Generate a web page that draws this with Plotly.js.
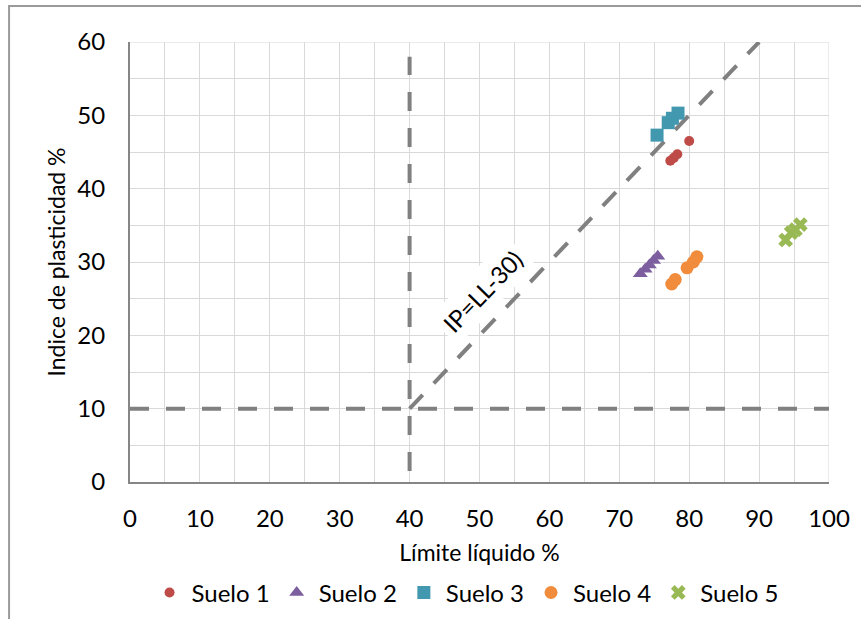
<!DOCTYPE html>
<html>
<head>
<meta charset="utf-8">
<script src="https://cdn.plot.ly/plotly-3.0.1.min.js"></script>
<style>
html,body{margin:0;padding:0;background:#fff;}
#chart{width:861px;height:619px;}
</style>
</head>
<body>
<div id="chart"></div>
<script>
// Data
var seriesNames = ["Suelo 1", "Suelo 2", "Suelo 3", "Suelo 4", "Suelo 5"];
var suelo1LL = [77.3, 77.8, 78.3, 80.0];
var suelo1IP = [43.8, 44.2, 44.7, 46.5];
var suelo2LL = [73.0, 73.7, 74.3, 74.9, 75.5];
var suelo2IP = [28.4, 29.0, 29.6, 30.2, 30.8];
var suelo3LL = [75.4, 77.0, 77.6, 78.4];
var suelo3IP = [47.3, 49.0, 49.6, 50.3];
var suelo4LL = [77.5, 78.0, 79.7, 80.6, 81.1];
var suelo4IP = [27.0, 27.6, 29.2, 30.0, 30.7];
var suelo5LL = [93.8, 94.6, 95.2, 95.9];
var suelo5IP = [33.0, 34.0, 34.4, 35.1];

// Reference lines
var lineHorizX = [0, 100];
var lineHorizY = [10, 10];
var lineVertX = [40, 40];
var lineVertY = [1.5, 58];
var lineDiagX = [40, 90];
var lineDiagY = [10, 60];
var diagLabel = "IP=LL-30)";

var xTicks = [0,10,20,30,40,50,60,70,80,90,100];
var yTicks = [0,10,20,30,40,50,60];

var FONT = "Lato, 'Noto Sans', sans-serif";
var colors = ["#BE4B48", "#7D5FA0", "#4198AF", "#F08C3C", "#98B954"];
var symbols = ["circle", "triangle-up", "square", "circle", "x"];
var sizes = [10, 13, 13, 13, 13];
var xs = [suelo1LL, suelo2LL, suelo3LL, suelo4LL, suelo5LL];
var ys = [suelo1IP, suelo2IP, suelo3IP, suelo4IP, suelo5IP];

var dashStyle = {color: "#808080", width: 4, dash: "19px,17px"};
var traces = [
  {x: lineHorizX, y: lineHorizY, mode: "lines", line: dashStyle, showlegend: false, hoverinfo: "skip"},
  {x: lineVertX, y: lineVertY, mode: "lines", line: dashStyle, showlegend: false, hoverinfo: "skip"},
  {x: lineDiagX, y: lineDiagY, mode: "lines", line: {color: "#808080", width: 4, dash: "19px,16px"}, showlegend: false, hoverinfo: "skip"}
];
for (var i = 0; i < seriesNames.length; i++) {
  traces.push({
    x: xs[i], y: ys[i], name: seriesNames[i], type: "scatter", mode: "markers",
    marker: {color: colors[i], symbol: symbols[i], size: sizes[i], line: {width: 0}}
  });
}

var layout = {
  width: 861, height: 619,
  margin: {l: 130, r: 32, t: 42, b: 137, autoexpand: false},
  paper_bgcolor: "#fff", plot_bgcolor: "#fff",
  font: {family: FONT, color: "#000"},
  xaxis: {
    range: [0, 100], tickvals: xTicks, ticktext: xTicks.map(String),
    showgrid: true, gridcolor: "#d9d9d9", gridwidth: 1,
    minor: {dtick: 5, showgrid: true, gridcolor: "#d9d9d9", gridwidth: 1},
    zeroline: false, showline: true, linecolor: "#868686", linewidth: 2,
    ticks: "", tickfont: {size: 24, family: FONT}, ticklabelstandoff: 14,
    automargin: false,
    title: {text: "Límite líquido %", font: {size: 23, family: FONT}, standoff: 14}
  },
  yaxis: {
    range: [0, 60], tickvals: yTicks, ticktext: yTicks.map(String),
    showgrid: true, gridcolor: "#d9d9d9", gridwidth: 1,
    minor: {dtick: 5, showgrid: true, gridcolor: "#d9d9d9", gridwidth: 1},
    zeroline: false, showline: true, linecolor: "#868686", linewidth: 2,
    ticks: "", tickfont: {size: 24, family: FONT}, ticklabelstandoff: 18,
    automargin: false,
    title: {text: "Indice de plasticidad %", font: {size: 23, family: FONT}, standoff: 5}
  },
  legend: {
    orientation: "h", x: 0.48, xanchor: "center", y: -0.252, yanchor: "middle",
    font: {size: 24, family: FONT}, itemwidth: 34, tracegroupgap: 0
  },
  annotations: [{
    x: 50.4, y: 26.0, xref: "x", yref: "y", text: diagLabel, showarrow: false,
    textangle: -46, font: {size: 24, family: FONT, color: "#000"},
    bgcolor: "#fff", borderpad: 5
  }],
  shapes: [
    {type: "line", xref: "x", yref: "y", x0: 100, x1: 100, y0: 0, y1: 60, line: {color: "#d9d9d9", width: 1}, layer: "below"},
    {type: "line", xref: "x", yref: "y", x0: 0, x1: 100, y0: 60, y1: 60, line: {color: "#d9d9d9", width: 1}, layer: "below"},
    {type: "rect", xref: "paper", yref: "paper", x0: -0.173, x1: 1.1, y0: -0.4, y1: 1.082,
     line: {color: "#9a9a9a", width: 2}, fillcolor: "rgba(0,0,0,0)"}
  ]
};

Plotly.newPlot("chart", traces, layout, {displayModeBar: false, staticPlot: true});
</script>
</body>
</html>
